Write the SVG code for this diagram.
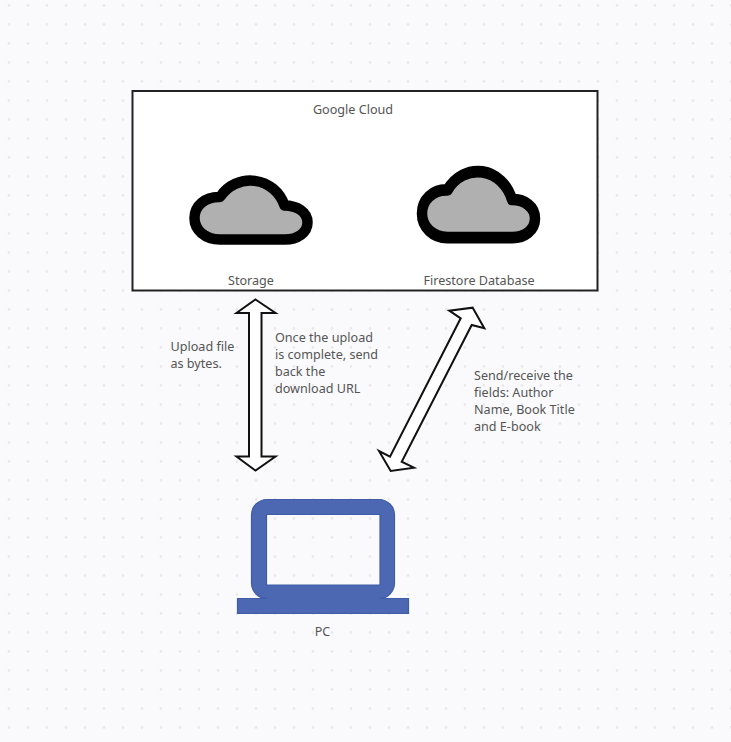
<svg xmlns="http://www.w3.org/2000/svg" width="731" height="742" viewBox="0 0 731 742">
<style>
text{font-family:"Noto Sans","Open Sans",sans-serif;font-size:12.6px;fill:#555}
.c{text-anchor:middle}
.cloud{fill:#b0b0b0;stroke:#000;stroke-width:10.500;stroke-linejoin:round;vector-effect:non-scaling-stroke}
.arrow{fill:#fff;stroke:#111;stroke-width:2;stroke-linejoin:miter}
</style>
<defs>
<pattern id="dots" x="0" y="0" width="19" height="19" patternUnits="userSpaceOnUse"><circle cx="9" cy="5.500" r="1.400" fill="#e9e9ed"/></pattern>
<path id="cloudShape" d="M220 239.500C205 239.500 194.500 230 194.500 218C194.500 206 205 196.500 220 197A36 36 0 0 1 284.500 205.500C297 205.500 307.500 212 307.500 222.500C307.500 233 297 239.500 285 239.500Z"/>
</defs>
<rect width="731" height="742" fill="#fafafc"/>
<rect width="731" height="742" fill="url(#dots)"/>
<g id="google-cloud">
<rect x="132.500" y="91" width="465" height="199.500" fill="#fff" stroke="#222" stroke-width="2"/>
<text class="c" x="353" y="114">Google Cloud</text>
</g>
<g id="storage">
<use href="#cloudShape" class="cloud"/>
<text class="c" x="251" y="285">Storage</text>
</g>
<g id="firestore">
<use href="#cloudShape" class="cloud" transform="translate(227.500,-30.480) scale(1,1.119)"/>
<text class="c" x="479" y="285">Firestore Database</text>
</g>
<g id="pc">
<path d="M267 499.500H379A15.500 15.500 0 0 1 394.500 515V583A15.500 15.500 0 0 1 379 598.500H408.500V613.500H237.500V598.500H267A15.500 15.500 0 0 1 251.500 583V515A15.500 15.500 0 0 1 267 499.500ZM266.500 514.500V585H380V514.500Z" fill="#4c68b3" fill-rule="evenodd" stroke="#3f5ca8" stroke-width="1.200"/>
<text class="c" x="322.500" y="636">PC</text>
</g>
<g id="connectors">
<path class="arrow" d="M255.500 299.500L275.500 313H261.500V456.500H275.500L255.500 470.500L236.500 456.500H249V313H236.500Z"/>
<path class="arrow" d="M472.700 307.700L484.300 328.300L471.700 325L401.700 461.700L414 467.700L390.700 471L379 451L390 456.700L460.700 318.300L449.300 310.700Z"/>
</g>
<g id="labels">
<text x="170.500" y="351">Upload file</text>
<text x="170.500" y="368">as bytes.</text>
<text x="275" y="342">Once the upload</text>
<text x="275" y="359">is complete, send</text>
<text x="275" y="376">back the</text>
<text x="275" y="393">download URL</text>
<text x="474" y="380">Send/receive the</text>
<text x="474" y="397">fields: Author</text>
<text x="474" y="414">Name, Book Title</text>
<text x="474" y="431">and E-book</text>
</g>
</svg>
